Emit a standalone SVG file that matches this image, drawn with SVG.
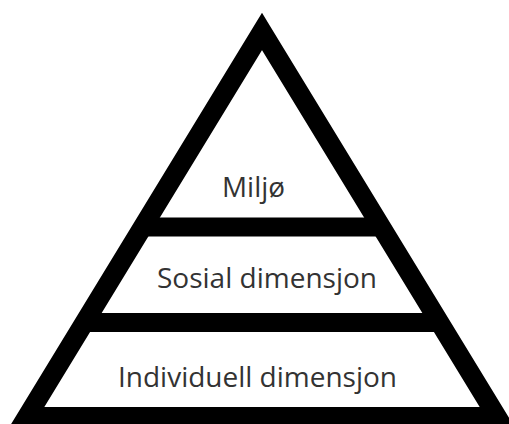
<svg xmlns="http://www.w3.org/2000/svg" width="509" height="424" viewBox="0 0 509 424">
  <style>
    .lbl { font-family: "Open Sans", "Noto Sans", "Liberation Sans", sans-serif; font-size: 28px; fill: #333333; }
    .band { stroke: #000000; stroke-width: 19; }
  </style>
  <rect x="0" y="0" width="509" height="424" fill="#ffffff"/>
  <g id="pyramid">
    <polygon points="262,31.5 497,416.7 27,416.7" fill="#ffffff" stroke="#000000" stroke-width="19.5" stroke-linejoin="miter" stroke-miterlimit="10"/>
  </g>
  <g id="connectors">
    <line class="band" x1="142.7" y1="227" x2="381.3" y2="227"/>
    <line class="band" x1="84.5" y1="322.5" x2="439.5" y2="322.5"/>
  </g>
  <g id="node-miljo">
    <text class="lbl" x="222" y="196.5" textLength="63" lengthAdjust="spacingAndGlyphs">Miljø</text>
  </g>
  <g id="node-sosial">
    <text class="lbl" x="157" y="288" textLength="220" lengthAdjust="spacingAndGlyphs">Sosial dimensjon</text>
  </g>
  <g id="node-individuell">
    <text class="lbl" x="118" y="386.5" textLength="279" lengthAdjust="spacingAndGlyphs">Individuell dimensjon</text>
  </g>
</svg>
